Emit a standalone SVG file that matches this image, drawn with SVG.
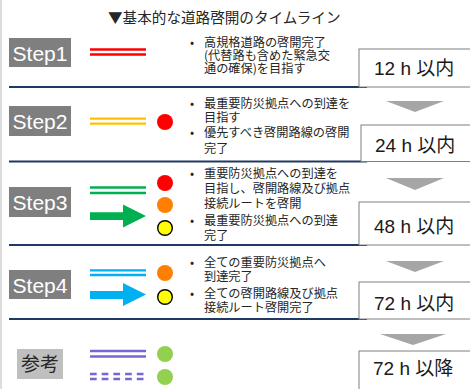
<svg xmlns="http://www.w3.org/2000/svg" width="470" height="389" viewBox="0 0 470 389">
<style>
.bg{fill:#ffffff}
.frame{stroke:#d0d0d0;stroke-width:1.5}
.title{font-family:"Noto Sans CJK JP","Liberation Sans",sans-serif;font-size:14.6px;fill:#262626}
.step{fill:#7f7f7f}
.steptx{font-family:"Liberation Sans","Noto Sans",sans-serif;font-size:21px;fill:#ffffff;text-anchor:middle}
.ref{fill:#bfbfbf}
.reftx{font-family:"Noto Sans CJK JP",sans-serif;font-size:19px;fill:#262626;text-anchor:middle}
.jp{font-family:"Noto Sans CJK JP",sans-serif;font-size:12.2px;fill:#262626}
.sep{stroke:#203864;stroke-width:1.8}
.tbox{fill:#ffffff;stroke:#7f7f7f;stroke-width:1}
.ttx{font-family:"Liberation Sans","Noto Sans CJK JP",sans-serif;font-size:19px;fill:#1a1a1a}
.down{fill:#a6a6a6}
.ln{stroke-width:2.3;fill:none}
</style>
<rect class="bg" x="0" y="0" width="470" height="389"/>
<line class="frame" x1="1" y1="0" x2="1" y2="389"/>
<text class="title" x="108" y="23">▼基本的な道路啓開のタイムライン</text>

<g id="connectors">
<line class="sep" x1="9" y1="87" x2="367" y2="87"/>
<line class="sep" x1="9" y1="161.5" x2="367" y2="161.5"/>
<line class="sep" x1="9" y1="245" x2="367" y2="245"/>
<line class="sep" x1="9" y1="319" x2="367" y2="319"/>
<polygon class="down" points="386,101 444,101 415,112"/>
<polygon class="down" points="386,178 444,178 415,190"/>
<polygon class="down" points="386,261 444,261 415,272"/>
<polygon class="down" points="380,334 446,334 413,345"/>
</g>

<g id="step1">
<rect class="step" x="9" y="38" width="62" height="29"/>
<text class="steptx" x="40" y="60.5">Step1</text>
<line class="ln" stroke="#ff0000" x1="90" y1="49.5" x2="146" y2="49.5"/>
<line class="ln" stroke="#ff0000" x1="90" y1="54.5" x2="146" y2="54.5"/>
<text class="jp" x="190" y="46.5">•</text>
<text class="jp" x="204" y="46.5">高規格道路の啓開完了</text>
<text class="jp" x="204" y="59.5">(代替路も含めた緊急交</text>
<text class="jp" x="204" y="73">通の確保)を目指す</text>
<rect class="tbox" x="359" y="49" width="116" height="38"/>
<text class="ttx" x="374" y="75">12 h 以内</text>
</g>

<g id="step2">
<rect class="step" x="9" y="106" width="62" height="30"/>
<text class="steptx" x="40" y="129">Step2</text>
<line class="ln" stroke="#ffc000" x1="90" y1="118.7" x2="146" y2="118.7"/>
<line class="ln" stroke="#ffc000" x1="90" y1="123.7" x2="146" y2="123.7"/>
<circle cx="165" cy="122" r="8" fill="#ff0000"/>
<text class="jp" x="190" y="108">•</text>
<text class="jp" x="204" y="108">最重要防災拠点への到達を</text>
<text class="jp" x="204" y="121.5">目指す</text>
<text class="jp" x="190" y="137">•</text>
<text class="jp" x="204" y="137">優先すべき啓開路線の啓開</text>
<text class="jp" x="204" y="153">完了</text>
<rect class="tbox" x="361" y="125" width="114" height="36.5"/>
<text class="ttx" x="375" y="152">24 h 以内</text>
</g>

<g id="step3">
<rect class="step" x="9" y="187" width="62" height="30"/>
<text class="steptx" x="40" y="210">Step3</text>
<line class="ln" stroke="#00b050" x1="90" y1="187.5" x2="146" y2="187.5"/>
<line class="ln" stroke="#00b050" x1="90" y1="193" x2="146" y2="193"/>
<polygon fill="#00b050" points="90,212.3 123,212.3 123,204.5 146,216 123,227.5 123,220 90,220"/>
<circle cx="165" cy="183" r="8" fill="#ff0000"/>
<circle cx="165" cy="205" r="8" fill="#ff8000"/>
<circle cx="165" cy="228" r="7.3" fill="#ffff00" stroke="#000000" stroke-width="1.4"/>
<text class="jp" x="190" y="177.5">•</text>
<text class="jp" x="204" y="177.5">重要防災拠点への到達を</text>
<text class="jp" x="204" y="193">目指し、啓開路線及び拠点</text>
<text class="jp" x="204" y="207.5">接続ルートを啓開</text>
<text class="jp" x="190" y="225">•</text>
<text class="jp" x="204" y="225">最重要防災拠点への到達</text>
<text class="jp" x="204" y="240">完了</text>
<rect class="tbox" x="359" y="202" width="116" height="43"/>
<text class="ttx" x="374" y="233">48 h 以内</text>
</g>

<g id="step4">
<rect class="step" x="9" y="270" width="62" height="29"/>
<text class="steptx" x="40" y="292.5">Step4</text>
<line class="ln" stroke="#00b0f0" x1="90" y1="270.3" x2="146" y2="270.3"/>
<line class="ln" stroke="#00b0f0" x1="90" y1="275" x2="146" y2="275"/>
<polygon fill="#00b0f0" points="90,291 123,291 123,283 146,294.5 123,306 123,299 90,299"/>
<circle cx="165" cy="273" r="8" fill="#ff8000"/>
<circle cx="165" cy="297" r="7.3" fill="#ffff00" stroke="#000000" stroke-width="1.4"/>
<text class="jp" x="190" y="267">•</text>
<text class="jp" x="204" y="267">全ての重要防災拠点へ</text>
<text class="jp" x="204" y="280.5">到達完了</text>
<text class="jp" x="190" y="297.5">•</text>
<text class="jp" x="204" y="297.5">全ての啓開路線及び拠点</text>
<text class="jp" x="204" y="312">接続ルート啓開完了</text>
<rect class="tbox" x="359" y="282" width="116" height="37"/>
<text class="ttx" x="374" y="310">72 h 以内</text>
</g>

<g id="reference">
<rect class="ref" x="17" y="349" width="46" height="30"/>
<text class="reftx" x="40" y="371">参考</text>
<line class="ln" stroke="#7468d6" x1="90" y1="351" x2="146" y2="351"/>
<line class="ln" stroke="#7468d6" x1="90" y1="356.5" x2="146" y2="356.5"/>
<line class="ln" stroke="#7468d6" stroke-dasharray="6.7 5" x1="90" y1="374" x2="144" y2="374"/>
<line class="ln" stroke="#7468d6" stroke-dasharray="6.7 5" x1="90" y1="379" x2="144" y2="379"/>
<circle cx="165" cy="354" r="8" fill="#92d050"/>
<circle cx="165" cy="377" r="8" fill="#92d050"/>
<rect class="tbox" x="359" y="351" width="116" height="45"/>
<text class="ttx" x="373" y="375">72 h 以降</text>
</g>
</svg>
